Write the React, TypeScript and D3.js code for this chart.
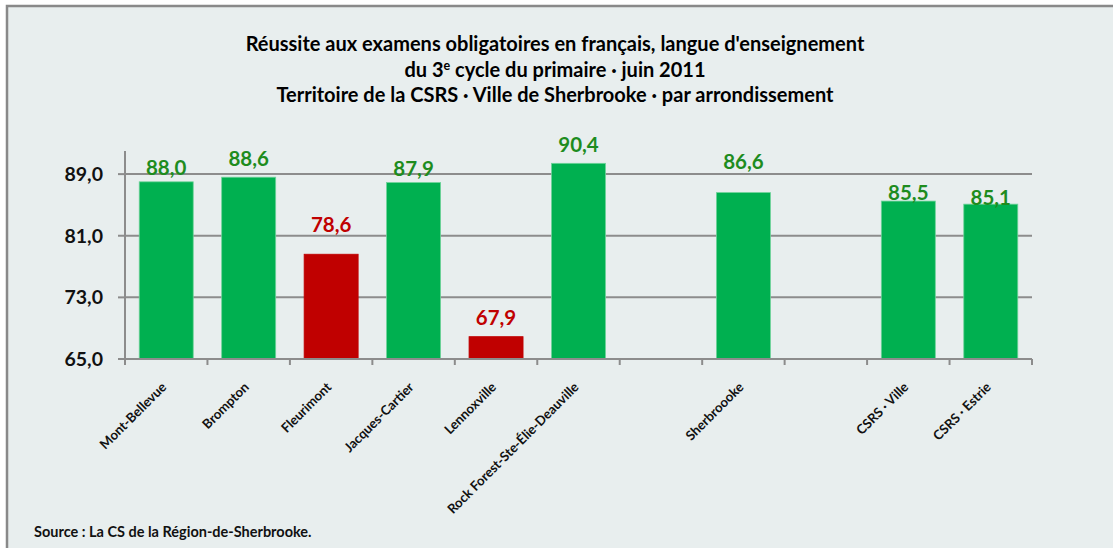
import * as React from "react";
import * as d3 from "d3";

// districts, then the city, then the school board totals (blank slots are gaps in the original)
const categories = [
  "Mont-Bellevue",
  "Brompton",
  "Fleurimont",
  "Jacques-Cartier",
  "Lennoxville",
  "Rock Forest-Ste-Élie-Deauville",
  "",
  "Sherbroooke",
  "",
  "CSRS · Ville",
  "CSRS · Estrie",
];
const values: (number | null)[] = [88.0, 88.6, 78.6, 87.9, 67.9, 90.4, null, 86.6, null, 85.5, 85.1];
const lowCategories = ["Fleurimont", "Lennoxville"];
const yTicks = [65, 73, 81, 89];
const titleLines = [
  "Réussite aux examens obligatoires en français, langue d'enseignement",
  "du 3e cycle du primaire · juin 2011",
  "Territoire de la CSRS · Ville de Sherbrooke · par arrondissement",
];
const sourceText = "Source : La CS de la Région-de-Sherbrooke.";

// how far each value label sits above its bar (the original labels were nudged by hand)
const labelLift = [7, 11, 22, 7, 12, 11, 0, 24, 0, 1, -1];

const W = 1113;
const H = 548;
const FONT = "Lato, 'Open Sans', sans-serif";
const GREEN = "#00b050";
const RED = "#c00000";
const GREEN_TXT = "#1e8c1e";

export default function App() {
  const left = 125;
  const right = 1032;
  const top = 151;
  const bottom = 359;

  const x = d3
    .scaleBand<string>()
    .domain(categories.map((_, i) => String(i)))
    .range([left, right])
    .padding(0);
  const y = d3.scaleLinear().domain([65, 92]).range([bottom, top]);

  const bw = x.bandwidth() * 0.655;
  const fmt = (v: number) => d3.format(".1f")(v).replace(".", ",");

  return (
    <svg
      width={W}
      height={H}
      style={{ position: "absolute", left: 0, top: 0, background: "#fff" }}
      fontFamily={FONT}
    >
      <rect x={7} y={6} width={W + 20} height={H + 20} fill="#e8eeee" stroke="#898989" strokeWidth={2.5} />

      {titleLines.map((t, i) => (
        <text
          key={i}
          x={555}
          y={51 + i * 25.5}
          textAnchor="middle"
          fontSize={20}
          fontWeight={700}
          fill="#000"
        >
          {i === 1 ? (
            <>
              du 3<tspan fontSize={12.5} dy={-7}>e</tspan>
              <tspan dy={7}> cycle du primaire · juin 2011</tspan>
            </>
          ) : (
            t
          )}
        </text>
      ))}

      {/* gridlines */}
      {yTicks.slice(1).map((t) => (
        <line key={t} x1={left} x2={right} y1={y(t)} y2={y(t)} stroke="#8c8c8c" strokeWidth={2} />
      ))}

      {/* y axis */}
      <line x1={left} x2={left} y1={top} y2={bottom} stroke="#8c8c8c" strokeWidth={2} />
      {yTicks.map((t) => (
        <g key={t}>
          <line x1={left - 7} x2={left} y1={y(t)} y2={y(t)} stroke="#8c8c8c" strokeWidth={2} />
          <text
            x={103}
            y={y(t)}
            dy="0.36em"
            textAnchor="end"
            fontSize={19.5}
            fontWeight={700}
            fill="#111"
          >
            {fmt(t)}
          </text>
        </g>
      ))}

      {/* bars */}
      {values.map((v, i) => {
        if (v == null) return null;
        const cx = (x(String(i)) ?? 0) + x.bandwidth() / 2;
        const low = lowCategories.includes(categories[i]);
        return (
          <g key={i}>
            <rect
              x={cx - bw / 2}
              y={y(v)}
              width={bw}
              height={bottom - y(v)}
              fill={low ? RED : GREEN}
              stroke={low ? RED : "#6fd39a"}
              strokeWidth={0.8}
            />
            <text
              x={cx}
              y={y(v) - labelLift[i]}
              textAnchor="middle"
              fontSize={20.5}
              fontWeight={700}
              fill={low ? RED : GREEN_TXT}
            >
              {fmt(v)}
            </text>
          </g>
        );
      })}

      {/* x axis */}
      <line x1={left - 7} x2={right} y1={bottom} y2={bottom} stroke="#8c8c8c" strokeWidth={2} />
      {d3.range(categories.length + 1).map((i) => {
        const tx = left + i * x.bandwidth();
        return <line key={i} x1={tx} x2={tx} y1={bottom} y2={bottom + 6} stroke="#8c8c8c" strokeWidth={2} />;
      })}
      {categories.map((c, i) => {
        if (!c) return null;
        const cx = (x(String(i)) ?? 0) + x.bandwidth() / 2;
        return (
          <text
            key={i}
            transform={`translate(${cx + 1},${bottom + 29}) rotate(-45)`}
            textAnchor="end"
            fontSize={13.2}
            fontWeight={700}
            fill="#111"
          >
            {c}
          </text>
        );
      })}

      <text x={34} y={537} fontSize={14.5} fontWeight={700} fill="#111">
        {sourceText}
      </text>
    </svg>
  );
}
